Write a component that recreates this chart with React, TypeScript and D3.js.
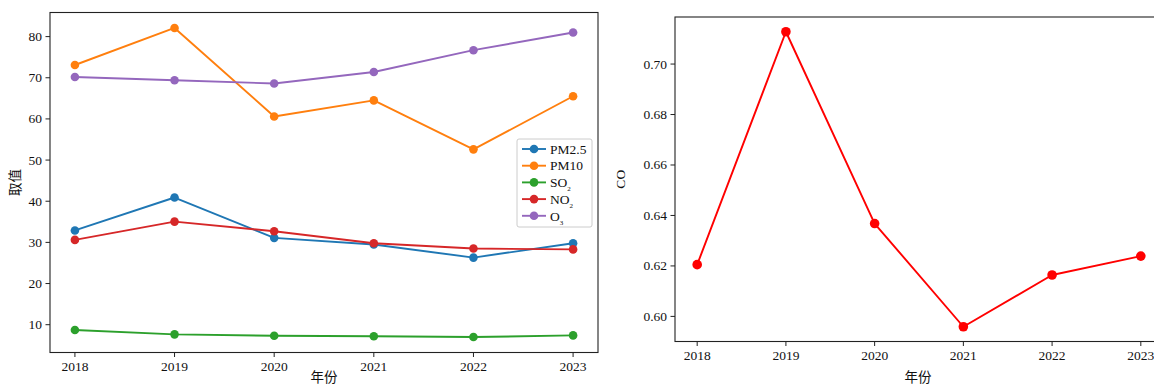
import React from "react";
import * as d3 from "d3";

// Annual average concentrations by year
const years = [2018, 2019, 2020, 2021, 2022, 2023];
const pm25 = [32.9, 40.9, 31.1, 29.5, 26.3, 29.8];
const pm10 = [73.1, 82.1, 60.6, 64.5, 52.6, 65.5];
const so2 = [8.7, 7.65, 7.3, 7.2, 7.0, 7.4];
const no2 = [30.6, 35.05, 32.7, 29.8, 28.5, 28.3];
const o3 = [70.2, 69.4, 68.6, 71.4, 76.7, 81.0];
const co = [0.6205, 0.7128, 0.6368, 0.5959, 0.6164, 0.6239];

const leftTicks = [10, 20, 30, 40, 50, 60, 70, 80];
const rightTicks = [0.6, 0.62, 0.64, 0.66, 0.68, 0.7];

type Series = { name: string; sub?: string; color: string; values: number[] };
const series: Series[] = [
  { name: "PM2.5", color: "#1f77b4", values: pm25 },
  { name: "PM10", color: "#ff7f0e", values: pm10 },
  { name: "SO", sub: "2", color: "#2ca02c", values: so2 },
  { name: "NO", sub: "2", color: "#d62728", values: no2 },
  { name: "O", sub: "3", color: "#9467bd", values: o3 },
];

const SERIF = "'Liberation Serif', 'Times New Roman', serif";
const CJK = "'Noto Sans CJK SC', sans-serif";
const FS = 13.5;

function padDomain(vals: number[]): [number, number] {
  const lo = d3.min(vals)!;
  const hi = d3.max(vals)!;
  const m = (hi - lo) * 0.05;
  return [lo - m, hi + m];
}

function Axes({
  left, right, top, bottom, yDomain, yTicks, fmt, children,
}: {
  left: number; right: number; top: number; bottom: number;
  yDomain: [number, number]; yTicks: number[]; fmt: (v: number) => string;
  children: (x: d3.ScaleLinear<number, number>, y: d3.ScaleLinear<number, number>) => React.ReactNode;
}) {
  const x = d3.scaleLinear().domain([years[0] - 0.25, years[years.length - 1] + 0.25]).range([left, right]);
  const y = d3.scaleLinear().domain(yDomain).range([bottom, top]);
  const tl = 4.5;
  return (
    <g>
      {children(x, y)}
      <rect x={left} y={top} width={right - left} height={bottom - top} fill="none" stroke="#222" strokeWidth={1.1} />
      {years.map((yr) => (
        <g key={yr}>
          <line x1={x(yr)} x2={x(yr)} y1={bottom} y2={bottom + tl} stroke="#222" />
          <text x={x(yr)} y={bottom + 18} textAnchor="middle" fontFamily={SERIF} fontSize={FS} fill="#111">
            {yr}
          </text>
        </g>
      ))}
      {yTicks.map((t) => (
        <g key={t}>
          <line x1={left - tl} x2={left} y1={y(t)} y2={y(t)} stroke="#222" />
          <text x={left - tl - 3.5} y={y(t)} dy="0.33em" textAnchor="end" fontFamily={SERIF} fontSize={FS} fill="#111">
            {fmt(t)}
          </text>
        </g>
      ))}
    </g>
  );
}

function Line({ x, y, values, color, r }: {
  x: d3.ScaleLinear<number, number>; y: d3.ScaleLinear<number, number>;
  values: number[]; color: string; r: number;
}) {
  const path = d3.line<number>().x((_, i) => x(years[i])).y((v) => y(v))(values)!;
  return (
    <g>
      <path d={path} fill="none" stroke={color} strokeWidth={1.9} strokeLinejoin="round" />
      {values.map((v, i) => (
        <circle key={i} cx={x(years[i])} cy={y(v)} r={r} fill={color} />
      ))}
    </g>
  );
}

export default function App() {
  const L = { left: 50, right: 598, top: 12.5, bottom: 352.5 };
  const R = { left: 675, right: 1163, top: 17, bottom: 341.5 };
  const leftDomain = padDomain([...pm25, ...pm10, ...so2, ...no2, ...o3]);
  const rightDomain = padDomain(co);

  const legX = 517, legY = 139, legW = 75, legH = 88, rowH = 16.7;

  return (
    <svg width={1154} height={385} style={{ position: "absolute", left: 0, top: 0, background: "#fff" }}>
      <rect width={1154} height={385} fill="#fff" />
      <Axes {...L} yDomain={leftDomain} yTicks={leftTicks} fmt={(v) => d3.format("d")(v)}>
        {(x, y) => series.map((s) => <Line key={s.name + (s.sub ?? "")} x={x} y={y} values={s.values} color={s.color} r={4.3} />)}
      </Axes>
      {/* legend */}
      <g>
        <rect x={legX} y={legY} width={legW} height={legH} rx={2} fill="#fff" fillOpacity={0.8} stroke="#ccc" />
        {series.map((s, i) => {
          const cy = legY + 10 + i * rowH;
          return (
            <g key={i}>
              <line x1={legX + 5} x2={legX + 29} y1={cy} y2={cy} stroke={s.color} strokeWidth={1.9} />
              <circle cx={legX + 17} cy={cy} r={4.3} fill={s.color} />
              <text x={legX + 33} y={cy} dy="0.35em" fontFamily={SERIF} fontSize={FS} fill="#111">
                {s.name}
                {s.sub && (
                  <tspan fontSize={7} dy={4}>{s.sub}</tspan>
                )}
              </text>
            </g>
          );
        })}
      </g>
      <text transform={`translate(20,${(L.top + L.bottom) / 2}) rotate(-90)`} textAnchor="middle" fontFamily={CJK} fontSize={FS} fill="#111">
        取值
      </text>
      <text x={(L.left + L.right) / 2} y={382} textAnchor="middle" fontFamily={CJK} fontSize={FS} fill="#111">
        年份
      </text>

      <Axes {...R} yDomain={rightDomain} yTicks={rightTicks} fmt={(v) => d3.format(".2f")(v)}>
        {(x, y) => <Line x={x} y={y} values={co} color="#ff0000" r={4.8} />}
      </Axes>
      <text transform={`translate(625,${(R.top + R.bottom) / 2}) rotate(-90)`} textAnchor="middle" fontFamily={SERIF} fontSize={FS} fill="#111">
        CO
      </text>
      <text x={918} y={382} textAnchor="middle" fontFamily={CJK} fontSize={FS} fill="#111">
        年份
      </text>
    </svg>
  );
}
